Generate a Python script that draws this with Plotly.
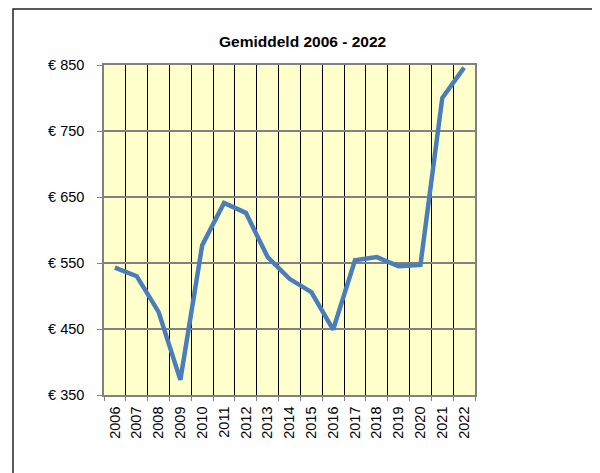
import plotly.graph_objects as go

years = [str(y) for y in range(2006, 2023)]
values = [543, 530, 476, 373, 577, 641, 626, 559, 526, 506, 449, 554, 559, 545, 547, 800, 846]
y_ticks = [350, 450, 550, 650, 750, 850]
y_tick_labels = ["€ 350", "€ 450", "€ 550", "€ 650", "€ 750", "€ 850"]

OFF = 8  # page body margin
W, H = 600 - OFF, 473 - OFF
L = 104 - OFF
T = 64.5 - OFF
R = W - (475 - OFF)
B = H - (395 - OFF)
pw, ph = W - L - R, H - T - B

def px(x):
    return (x - OFF - L) / pw

def py(y):
    return (H - B - (y - OFF)) / ph

fig = go.Figure()
fig.add_trace(go.Scatter(
    x=years, y=values, mode="lines",
    line=dict(color="#4a7ebb", width=4.5),
    showlegend=False, hoverinfo="skip",
))

fig.update_layout(
    width=W, height=H,
    margin=dict(l=L, r=R, t=T, b=B),
    paper_bgcolor="white",
    plot_bgcolor="#ffffcc",
    font=dict(family="Liberation Sans, Arial, sans-serif", size=14.5, color="black"),
    xaxis=dict(
        type="category", range=[-0.5, 16.5],
        tickson="boundaries", ticks="outside", ticklen=4, tickcolor="#808080",
        showgrid=True, gridcolor="black", gridwidth=1,
        showline=True, linecolor="#808080", linewidth=1.5, mirror=True,
        tickangle=-90, tickfont=dict(size=14.5), ticklabelstandoff=4,
    ),
    yaxis=dict(
        range=[350, 850], tickvals=y_ticks, ticktext=y_tick_labels,
        ticks="outside", ticklen=5, tickcolor="#808080",
        showgrid=True, gridcolor="#808080", gridwidth=1.5,
        showline=True, linecolor="#808080", linewidth=1.5, mirror=True,
        zeroline=False, tickfont=dict(size=14.5), ticklabelstandoff=10,
    ),
    shapes=[dict(
        type="rect", xref="paper", yref="paper",
        x0=px(13), x1=px(598), y0=py(490), y1=py(8.5),
        line=dict(color="#222222", width=1.5), fillcolor="rgba(0,0,0,0)",
        layer="below",
    )],
    annotations=[dict(
        text="<b>Gemiddeld 2006 - 2022</b>", xref="paper", yref="paper",
        x=px(302), y=py(41), xanchor="center", yanchor="middle",
        showarrow=False, font=dict(size=15.5, color="black"),
    )],
)

fig.write_html("out.html")
